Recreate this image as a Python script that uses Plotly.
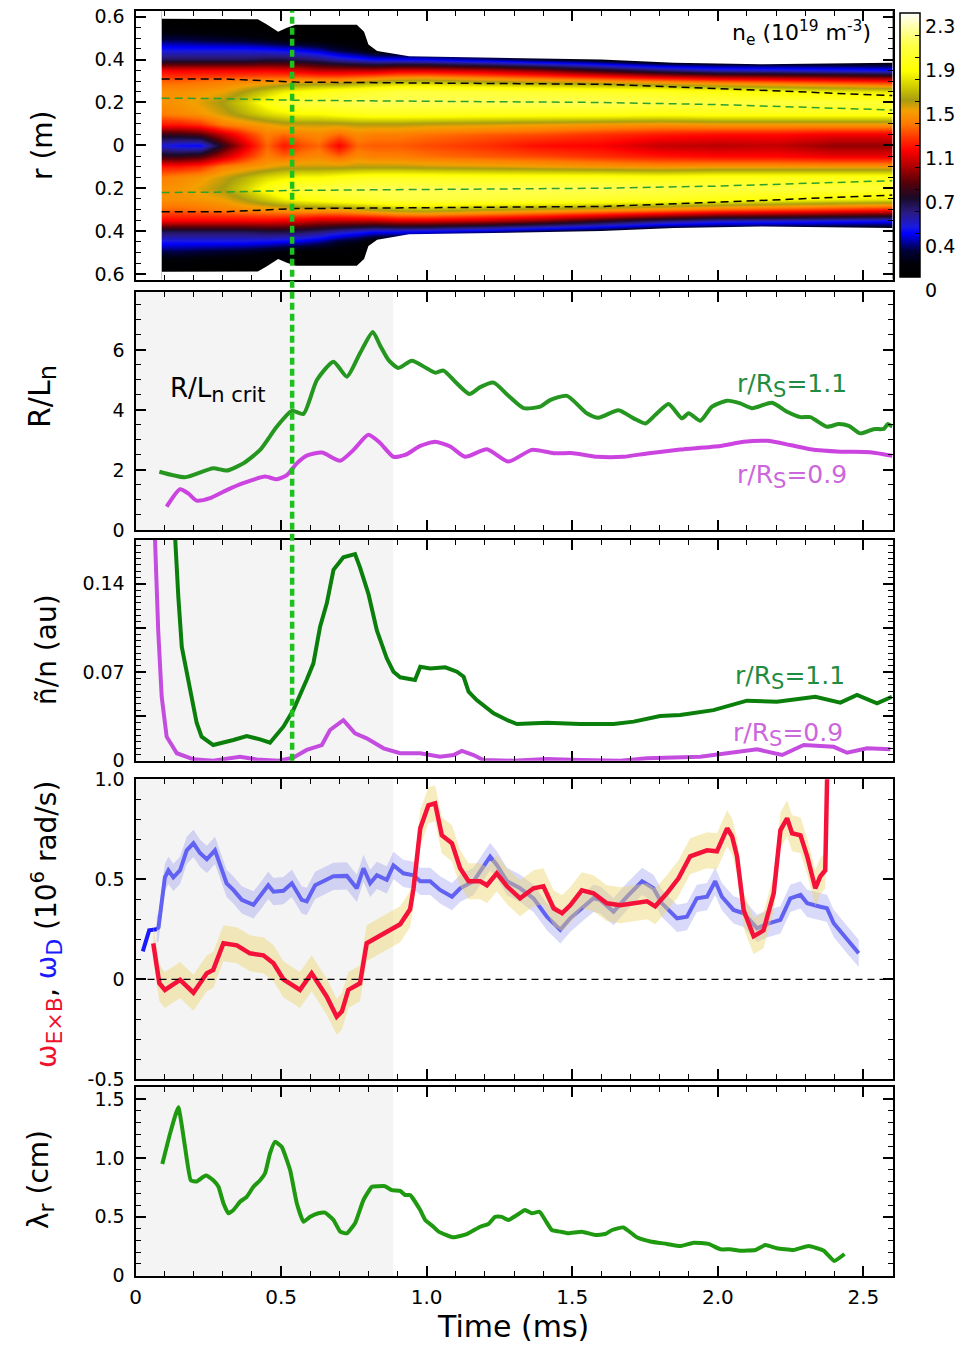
import plotly.graph_objects as go

W, H = 963, 1346
FONT = "DejaVu Sans"

# ---------------- data ----------------
# density map n_e(t, r): half profiles at radii R_HALF for each time in NE_T
NE_T = [0.09, 0.15, 0.22, 0.30, 0.38, 0.45, 0.51, 0.57, 0.63, 0.70, 0.76, 0.82,
        0.90, 1.0, 1.2, 1.4, 1.6, 1.8, 2.0, 2.2, 2.4, 2.6]
R_HALF = [0, 0.05, 0.1, 0.15, 0.2, 0.25, 0.3, 0.35, 0.4, 0.45, 0.5, 0.55, 0.6]
NE_PROFILES = [
    [0.45, 0.75, 1.15, 1.35, 1.40, 1.40, 1.30, 1.10, 0.62, 0.42, 0.22, 0.04, 0.0],
    [0.40, 0.75, 1.15, 1.38, 1.42, 1.40, 1.30, 1.10, 0.62, 0.42, 0.22, 0.04, 0.0],
    [0.38, 0.80, 1.20, 1.42, 1.47, 1.42, 1.32, 1.10, 0.62, 0.42, 0.20, 0.03, 0.0],
    [0.75, 1.00, 1.35, 1.50, 1.55, 1.45, 1.35, 1.10, 0.62, 0.42, 0.18, 0.03, 0.0],
    [1.05, 1.20, 1.40, 1.60, 1.68, 1.55, 1.38, 1.10, 0.62, 0.42, 0.16, 0.02, 0.0],
    [1.30, 1.35, 1.45, 1.70, 1.85, 1.65, 1.40, 1.10, 0.65, 0.40, 0.12, 0.02, 0.0],
    [1.15, 1.30, 1.50, 1.75, 1.95, 1.75, 1.42, 1.08, 0.65, 0.38, 0.08, 0.0, 0.0],
    [1.25, 1.35, 1.50, 1.80, 2.00, 1.80, 1.45, 1.05, 0.62, 0.35, 0.05, 0.0, 0.0],
    [1.30, 1.38, 1.50, 1.80, 2.00, 1.85, 1.45, 1.00, 0.58, 0.30, 0.04, 0.0, 0.0],
    [1.10, 1.30, 1.50, 1.85, 2.02, 1.90, 1.45, 1.00, 0.50, 0.20, 0.03, 0.0, 0.0],
    [1.30, 1.38, 1.52, 1.88, 2.05, 1.92, 1.50, 1.00, 0.45, 0.15, 0.02, 0.0, 0.0],
    [1.28, 1.35, 1.52, 1.90, 2.05, 1.95, 1.55, 1.00, 0.40, 0.05, 0.0, 0.0, 0.0],
    [1.28, 1.35, 1.52, 1.90, 2.05, 2.00, 1.60, 1.05, 0.40, 0.02, 0.0, 0.0, 0.0],
    [1.25, 1.32, 1.50, 1.90, 2.05, 2.00, 1.62, 1.05, 0.38, 0.0, 0.0, 0.0, 0.0],
    [1.20, 1.28, 1.48, 1.88, 2.05, 1.98, 1.55, 1.00, 0.30, 0.0, 0.0, 0.0, 0.0],
    [1.12, 1.25, 1.45, 1.88, 2.05, 1.95, 1.50, 0.90, 0.20, 0.0, 0.0, 0.0, 0.0],
    [1.10, 1.20, 1.42, 1.88, 2.05, 1.92, 1.45, 0.75, 0.12, 0.0, 0.0, 0.0, 0.0],
    [1.00, 1.15, 1.40, 1.85, 2.02, 1.90, 1.38, 0.60, 0.0, 0.0, 0.0, 0.0, 0.0],
    [0.98, 1.12, 1.42, 1.88, 2.00, 1.85, 1.30, 0.50, 0.0, 0.0, 0.0, 0.0, 0.0],
    [1.00, 1.12, 1.42, 1.88, 2.00, 1.80, 1.25, 0.48, 0.0, 0.0, 0.0, 0.0, 0.0],
    [0.92, 1.08, 1.42, 1.88, 1.98, 1.75, 1.20, 0.45, 0.0, 0.0, 0.0, 0.0, 0.0],
    [0.92, 1.08, 1.42, 1.88, 1.95, 1.72, 1.15, 0.42, 0.0, 0.0, 0.0, 0.0, 0.0],
]
NE_MAX = 2.3
# plasma edge radius vs time
EDGE_T = [0.09, 0.42, 0.45, 0.49, 0.52, 0.55, 0.76, 0.785, 0.80, 0.83, 0.94, 1.6, 1.85, 2.15, 2.6]
EDGE_R = [0.59, 0.588, 0.565, 0.53, 0.548, 0.562, 0.562, 0.53, 0.47, 0.44, 0.415, 0.40, 0.385, 0.378, 0.385]
# dashed contours
DASH_T = [0.09, 0.3, 0.55, 1.0, 1.6, 2.0, 2.3, 2.6]
BLACK_DASH_R = [0.31, 0.31, 0.295, 0.29, 0.285, 0.265, 0.25, 0.232]
GREEN_DASH_R = [0.22, 0.218, 0.21, 0.205, 0.2, 0.19, 0.178, 0.165]

T_CRIT = 0.538    # vertical dotted line
T_SHADE = 0.885   # end of grey shaded interval

# R/L_n
RLN11_T = [0.082, 0.17, 0.267, 0.313, 0.37, 0.428, 0.485, 0.537, 0.577, 0.623, 0.68, 0.726, 0.771,
           0.815, 0.84, 0.87, 0.903, 0.949, 1.0, 1.03, 1.058, 1.098, 1.147, 1.184, 1.23, 1.281,
           1.333, 1.39, 1.424, 1.482, 1.55, 1.59, 1.659, 1.711, 1.751, 1.785, 1.831, 1.877, 1.9,
           1.94, 1.98, 2.032, 2.077, 2.118, 2.186, 2.238, 2.284, 2.318, 2.375, 2.415, 2.45, 2.49,
           2.535, 2.57, 2.584, 2.6]
RLN11 = [1.94, 1.76, 2.06, 1.98, 2.22, 2.67, 3.44, 3.97, 3.87, 5.0, 5.61, 5.11, 5.89,
         6.6, 6.15, 5.65, 5.4, 5.64, 5.39, 5.24, 5.31, 4.94, 4.53, 4.76, 4.91, 4.47,
         4.06, 4.11, 4.33, 4.47, 3.89, 3.74, 3.99, 3.72, 3.55, 3.83, 4.2, 3.72, 3.89,
         3.64, 4.11, 4.31, 4.22, 4.06, 4.24, 3.94, 3.76, 3.76, 3.44, 3.53, 3.47, 3.22,
         3.36, 3.37, 3.53, 3.44]
RLN09_T = [0.107, 0.153, 0.181, 0.21, 0.256, 0.313, 0.37, 0.445, 0.485, 0.52, 0.554, 0.588, 0.64,
           0.703, 0.749, 0.8, 0.84, 0.886, 0.926, 0.978, 1.029, 1.081, 1.132, 1.207, 1.281, 1.361,
           1.436, 1.504, 1.585, 1.676, 1.757, 1.871, 2.009, 2.089, 2.169, 2.249, 2.318, 2.421,
           2.524, 2.6]
RLN09 = [0.78, 1.36, 1.22, 0.98, 1.06, 1.33, 1.56, 1.78, 1.69, 1.83, 2.22, 2.48, 2.58,
         2.31, 2.67, 3.17, 2.9, 2.44, 2.5, 2.8, 2.94, 2.78, 2.44, 2.69, 2.28, 2.67,
         2.56, 2.56, 2.44, 2.44, 2.55, 2.68, 2.8, 2.94, 2.97, 2.83, 2.69, 2.61,
         2.59, 2.47]

# fluctuation level n~/n
FL11_T = [0.133, 0.136, 0.147, 0.159, 0.181, 0.21, 0.227, 0.267, 0.336, 0.382, 0.428, 0.462, 0.508,
          0.542, 0.588, 0.611, 0.634, 0.657, 0.68, 0.714, 0.754, 0.771, 0.80, 0.829, 0.863, 0.886,
          0.909, 0.96, 0.978, 1.012, 1.064, 1.104, 1.127, 1.144, 1.172, 1.23, 1.276, 1.31, 1.413,
          1.527, 1.642, 1.711, 1.802, 1.871, 1.985, 2.1, 2.203, 2.335, 2.421, 2.478, 2.547, 2.598]
FL11 = [0.19, 0.175, 0.130, 0.090, 0.064, 0.030, 0.019, 0.0124, 0.0164, 0.0195, 0.0169, 0.0142, 0.0269,
        0.040, 0.064, 0.077, 0.106, 0.1245, 0.151, 0.161, 0.1635, 0.153, 0.132, 0.103, 0.081, 0.0704,
        0.066, 0.0638, 0.0744, 0.073, 0.0739, 0.0704, 0.0664, 0.0546, 0.048, 0.0375, 0.0322, 0.029, 0.030,
        0.029, 0.029, 0.0309, 0.0354, 0.0361, 0.040, 0.0475, 0.0467, 0.0506, 0.0459, 0.052, 0.0454, 0.0506]
FL09_T = [0.062, 0.067, 0.078, 0.09, 0.107, 0.142, 0.199, 0.267, 0.359, 0.416, 0.491, 0.542, 0.588,
          0.64, 0.668, 0.714, 0.754, 0.794, 0.852, 0.909, 0.978, 1.046, 1.092, 1.121, 1.161, 1.195,
          1.298, 1.413, 1.527, 1.665, 1.757, 1.871, 1.94, 2.135, 2.221, 2.295, 2.398, 2.444, 2.513, 2.593]
FL09 = [0.19, 0.175, 0.103, 0.0506, 0.019, 0.0059, 0.0011, 0.0, 0.0032, 0.001, 0.0, 0.0024, 0.0085,
        0.0124, 0.0243, 0.032, 0.0217, 0.0177, 0.0098, 0.0059, 0.0059, 0.0032, 0.0045, 0.0077, 0.0045, 0.0005,
        0.0, 0.0013, 0.0005, 0.0, 0.002, 0.0027, 0.0032, 0.009, 0.0045, 0.0124, 0.011, 0.0063, 0.0098, 0.009]

# shearing rate and drift frequency (10^6 rad/s)
EXB_T = [0.061, 0.082, 0.101, 0.153, 0.199, 0.245, 0.267, 0.302, 0.348, 0.393, 0.439, 0.474, 0.508,
         0.565, 0.605, 0.657, 0.691, 0.709, 0.731, 0.771, 0.794, 0.852, 0.909, 0.943, 0.955, 0.978,
         1.006, 1.029, 1.052, 1.087, 1.115, 1.144, 1.184, 1.207, 1.241, 1.276, 1.321, 1.367, 1.401,
         1.436, 1.465, 1.493, 1.533, 1.573, 1.619, 1.665, 1.711, 1.757, 1.785, 1.825, 1.865, 1.905,
         1.963, 1.997, 2.032, 2.049, 2.066, 2.089, 2.123, 2.157, 2.192, 2.215, 2.238, 2.255, 2.284,
         2.307, 2.335, 2.352, 2.369, 2.376]
EXB = [0.18, -0.02, -0.053, -0.003, -0.067, 0.03, 0.047, 0.18, 0.17, 0.13, 0.12, 0.08, 0.0,
       -0.053, 0.03, -0.087, -0.187, -0.16, -0.053, -0.02, 0.18, 0.23, 0.275, 0.35, 0.455, 0.755,
       0.87, 0.88, 0.72, 0.68, 0.555, 0.49, 0.49, 0.47, 0.53, 0.465, 0.405, 0.455, 0.465,
       0.355, 0.33, 0.37, 0.445, 0.43, 0.38, 0.37, 0.38, 0.39, 0.365, 0.43, 0.505, 0.615,
       0.645, 0.64, 0.755, 0.715, 0.615, 0.345, 0.215, 0.245, 0.43, 0.745, 0.805, 0.73, 0.72,
       0.615, 0.455, 0.515, 0.545, 1.05]
EXB_ERR = 0.09
WD0_T = [0.025, 0.047, 0.073]
WD0 = [0.14, 0.245, 0.25]
WD_T = [0.073, 0.079, 0.101, 0.113, 0.13, 0.153, 0.176, 0.199, 0.222, 0.245, 0.273, 0.313, 0.336,
        0.365, 0.405, 0.428, 0.456, 0.474, 0.508, 0.537, 0.571, 0.588, 0.617, 0.645, 0.68, 0.726,
        0.76, 0.783, 0.806, 0.829, 0.863, 0.886, 0.92, 0.955, 0.978, 1.012, 1.046, 1.087, 1.115,
        1.161, 1.218, 1.241, 1.276, 1.321, 1.367, 1.413, 1.459, 1.493, 1.539, 1.573, 1.596, 1.642,
        1.688, 1.74, 1.779, 1.808, 1.86, 1.894, 1.928, 1.963, 1.991, 2.014, 2.054, 2.089, 2.135,
        2.169, 2.215, 2.249, 2.284, 2.307, 2.352, 2.375, 2.398, 2.444, 2.484]
WD = [0.25, 0.26, 0.51, 0.545, 0.51, 0.545, 0.645, 0.68, 0.63, 0.60, 0.645, 0.48, 0.447,
      0.397, 0.372, 0.413, 0.47, 0.438, 0.443, 0.48, 0.397, 0.39, 0.47, 0.49, 0.515, 0.517,
      0.455, 0.555, 0.48, 0.52, 0.497, 0.57, 0.53, 0.52, 0.49, 0.49, 0.447, 0.413, 0.455,
      0.49, 0.613, 0.572, 0.49, 0.455, 0.405, 0.313, 0.247, 0.305, 0.363, 0.405, 0.397, 0.338,
      0.413, 0.49, 0.455, 0.38, 0.305, 0.313, 0.405, 0.413, 0.49, 0.413, 0.347, 0.33, 0.255,
      0.277, 0.297, 0.405, 0.422, 0.38, 0.363, 0.355, 0.28, 0.197, 0.13]
WD_ERR = 0.068

# radial correlation length (cm)
LR_T = [0.092, 0.119, 0.147, 0.17, 0.19, 0.21, 0.233, 0.244, 0.267, 0.285, 0.302, 0.319, 0.336,
        0.359, 0.382, 0.405, 0.428, 0.445, 0.462, 0.479, 0.502, 0.531, 0.554, 0.577, 0.6, 0.628,
        0.651, 0.68, 0.703, 0.726, 0.754, 0.783, 0.812, 0.834, 0.857, 0.88, 0.909, 0.926, 0.943,
        0.978, 0.995, 1.023, 1.041, 1.092, 1.138, 1.184, 1.212, 1.235, 1.258, 1.281, 1.31, 1.338,
        1.361, 1.388, 1.407, 1.43, 1.459, 1.487, 1.533, 1.579, 1.613, 1.637, 1.676, 1.722, 1.768,
        1.825, 1.871, 1.917, 1.968, 2.009, 2.043, 2.077, 2.129, 2.163, 2.203, 2.26, 2.312, 2.364,
        2.4, 2.435]
LR = [0.948, 1.21, 1.43, 1.095, 0.81, 0.80, 0.84, 0.85, 0.81, 0.755, 0.615, 0.53, 0.557,
      0.628, 0.67, 0.755, 0.81, 0.87, 1.04, 1.137, 1.095, 0.897, 0.615, 0.458, 0.50, 0.53,
      0.535, 0.473, 0.374, 0.36, 0.445, 0.643, 0.755, 0.76, 0.76, 0.727, 0.72, 0.685, 0.685,
      0.557, 0.473, 0.416, 0.374, 0.326, 0.354, 0.416, 0.439, 0.50, 0.50, 0.473, 0.515, 0.557,
      0.53, 0.543, 0.473, 0.388, 0.374, 0.36, 0.374, 0.346, 0.354, 0.388, 0.41, 0.326, 0.29,
      0.27, 0.252, 0.28, 0.27, 0.224, 0.224, 0.212, 0.218, 0.26, 0.233, 0.218, 0.252, 0.212,
      0.125, 0.184]

X_TICKS = [0, 0.5, 1.0, 1.5, 2.0, 2.5]
X_TICKTEXT = ["0", "0.5", "1.0", "1.5", "2.0", "2.5"]

# ---------------- layout geometry ----------------
def py(px):
    return 1 - px / H

XDOM = [135.5 / W, 892.5 / W]
DOMS = {
    1: [py(280), py(10.7)],
    2: [py(530), py(292)],
    3: [py(760.7), py(539.5)],
    4: [py(1079.3), py(779.3)],
    5: [py(1275.7), py(1087.3)],
}
R_LIM = 0.628
R_OUT = 0.8

CS = [
    [0.0, '#000000'], [0.05, '#000008'], [0.10, '#00003c'], [0.14, '#0000b8'],
    [0.165, '#0000ff'], [0.19, '#1a1ae0'], [0.245, '#2a1a80'], [0.30, '#1a0a28'],
    [0.36, '#5a0008'], [0.42, '#b00000'], [0.48, '#ff0000'], [0.53, '#ff3800'],
    [0.58, '#ff7a00'], [0.63, '#f4a000'], [0.67, '#a89c10'], [0.72, '#d0cc00'],
    [0.78, '#ffff00'], [0.88, '#ffff48'], [0.95, '#ffffb0'], [1.0, '#ffffff'],
]

fig = go.Figure()

# ---- panel 1: heatmap ----
n_r = len(R_HALF)
r_full = [-R_HALF[i] for i in range(n_r - 1, 0, -1)] + list(R_HALF)
row_idx = list(range(n_r - 1, 0, -1)) + list(range(n_r))
z = [[prof[i] for prof in NE_PROFILES] for i in row_idx]

cb_ticks = [NE_MAX * k / 12 for k in range(13)]
cb_text = ["0", "", "0.4", "", "0.7", "", "1.1", "", "1.5", "", "1.9", "", "2.3"]
fig.add_trace(go.Heatmap(
    x=NE_T, y=r_full, z=z, zsmooth='best', colorscale=CS, zmin=0, zmax=NE_MAX,
    xaxis='x', yaxis='y', hoverinfo='skip',
    colorbar=dict(
        x=900 / W, xanchor='left', y=py(277), yanchor='bottom',
        len=264 / H, lenmode='fraction', thickness=20, thicknessmode='pixels',
        outlinewidth=1.5, outlinecolor='black', ticks='inside', ticklen=5,
        tickcolor='black', tickwidth=1, tickvals=cb_ticks, ticktext=cb_text,
        ticklabelposition='outside bottom',
        tickfont=dict(family=FONT, size=19, color='black'), xpad=0, ypad=0,
    ),
))
# white outside the plasma edge
for sgn in (1, -1):
    fig.add_trace(go.Scatter(
        x=EDGE_T + EDGE_T[::-1], y=[sgn * r for r in EDGE_R] + [sgn * R_OUT] * len(EDGE_T),
        fill='toself', fillcolor='white', mode='lines', line=dict(width=0),
        xaxis='x', yaxis='y', hoverinfo='skip', showlegend=False))
fig.add_trace(go.Scatter(
    x=[0, NE_T[0], NE_T[0], 0], y=[-R_OUT, -R_OUT, R_OUT, R_OUT],
    fill='toself', fillcolor='white', mode='lines', line=dict(width=0),
    xaxis='x', yaxis='y', hoverinfo='skip', showlegend=False))
for sgn in (1, -1):
    fig.add_trace(go.Scatter(x=DASH_T, y=[sgn * r for r in BLACK_DASH_R], mode='lines',
                             line=dict(color='black', width=1.5, dash='8px,5px'),
                             xaxis='x', yaxis='y', showlegend=False, hoverinfo='skip'))
    fig.add_trace(go.Scatter(x=DASH_T, y=[sgn * r for r in GREEN_DASH_R], mode='lines',
                             line=dict(color='#2ca02c', width=1.5, dash='8px,5px'),
                             xaxis='x', yaxis='y', showlegend=False, hoverinfo='skip'))

# ---- panel 2: R/Ln ----
fig.add_trace(go.Scatter(x=RLN11_T, y=RLN11, mode='lines', line=dict(color='#25961f', width=4, shape='spline', smoothing=0.6),
                         xaxis='x2', yaxis='y2', showlegend=False))
fig.add_trace(go.Scatter(x=RLN09_T, y=RLN09, mode='lines', line=dict(color='#cc44e0', width=4, shape='spline', smoothing=0.6),
                         xaxis='x2', yaxis='y2', showlegend=False))

# ---- panel 3: fluctuation level ----
fig.add_trace(go.Scatter(x=FL11_T, y=FL11, mode='lines', line=dict(color='#0b7f0b', width=4),
                         xaxis='x3', yaxis='y3', showlegend=False))
fig.add_trace(go.Scatter(x=FL09_T, y=FL09, mode='lines', line=dict(color='#c44de0', width=4),
                         xaxis='x3', yaxis='y3', showlegend=False))

# ---- panel 4: omega ----
fig.add_trace(go.Scatter(
    x=WD_T + WD_T[::-1], y=[v + WD_ERR for v in WD] + [v - WD_ERR for v in WD][::-1],
    fill='toself', fillcolor='rgba(120,120,235,0.28)', mode='lines', line=dict(width=0),
    xaxis='x4', yaxis='y4', showlegend=False, hoverinfo='skip'))
fig.add_trace(go.Scatter(x=WD_T, y=WD, mode='lines', line=dict(color='#6262f2', width=4),
                         xaxis='x4', yaxis='y4', showlegend=False))
fig.add_trace(go.Scatter(x=WD0_T, y=WD0, mode='lines', line=dict(color='#1a1aff', width=4),
                         xaxis='x4', yaxis='y4', showlegend=False))
fig.add_trace(go.Scatter(
    x=EXB_T + EXB_T[::-1], y=[v + EXB_ERR for v in EXB] + [v - EXB_ERR for v in EXB][::-1],
    fill='toself', fillcolor='rgba(235,212,110,0.45)', mode='lines', line=dict(width=0),
    xaxis='x4', yaxis='y4', showlegend=False, hoverinfo='skip'))
fig.add_trace(go.Scatter(x=EXB_T, y=EXB, mode='lines', line=dict(color='#f5123a', width=4.5),
                         xaxis='x4', yaxis='y4', showlegend=False))

# ---- panel 5: lambda_r ----
fig.add_trace(go.Scatter(x=LR_T, y=LR, mode='lines', line=dict(color='#1f9a10', width=4, shape='spline', smoothing=0.4),
                         xaxis='x5', yaxis='y5', showlegend=False))

# ---------------- axes ----------------
def base_axis(**kw):
    d = dict(showline=True, linecolor='black', linewidth=2, mirror='allticks',
             ticks='inside', ticklen=10, tickwidth=1.5, tickcolor='black',
             showgrid=False, zeroline=False,
             tickfont=dict(family=FONT, size=19, color='black'))
    d.update(kw)
    return d

ylims = {1: [-R_LIM, R_LIM], 2: [0, 7.93], 3: [0, 0.175], 4: [-0.5, 1.0], 5: [0, 1.6]}
yticks = {
    1: ([-0.6, -0.4, -0.2, 0, 0.2, 0.4, 0.6], ['0.6', '0.4', '0.2', '0', '0.2', '0.4', '0.6'], 0.05),
    2: ([0, 2, 4, 6], ['0', '2', '4', '6'], 0.5),
    3: ([0, 0.035, 0.07, 0.105, 0.14], ['0', '', '0.07', '', '0.14'], 0.005),
    4: ([-0.5, 0, 0.5, 1.0], ['-0.5', '0', '0.5', '1.0'], 0.1),
    5: ([0, 0.5, 1.0, 1.5], ['0', '0.5', '1.0', '1.5'], 0.1),
}
layout_axes = {}
for k in range(1, 6):
    sx = '' if k == 1 else str(k)
    layout_axes['xaxis' + sx] = base_axis(
        domain=XDOM, range=[0, 2.6], anchor='y' + sx,
        tickmode='array', tickvals=X_TICKS, ticktext=X_TICKTEXT,
        showticklabels=(k == 5), ticklabelstandoff=2,
        tickfont=dict(family=FONT, size=20, color='black'),
        minor=dict(ticks='inside', ticklen=5, tickwidth=1.2, tickcolor='black',
                   tickmode='linear', tick0=0, dtick=0.1, showgrid=False),
    )
    tv, tt, md = yticks[k]
    layout_axes['yaxis' + sx] = base_axis(
        domain=DOMS[k], range=ylims[k], anchor='x' + sx,
        tickmode='array', tickvals=tv, ticktext=tt, ticklabelstandoff=5,
        minor=dict(ticks='inside', ticklen=5, tickwidth=1.2, tickcolor='black',
                   tickmode='linear', tick0=ylims[k][0] if k != 1 else 0, dtick=md, showgrid=False),
    )

shapes = []
for k in range(2, 6):
    shapes.append(dict(type='rect', xref='x%d' % k, yref='y%d domain' % k,
                       x0=0, x1=T_SHADE, y0=0, y1=1, fillcolor='#f4f4f4',
                       line=dict(width=0), layer='below'))
shapes.append(dict(type='line', xref='x4 domain', yref='y4', x0=0, x1=1, y0=0, y1=0,
                   line=dict(color='black', width=1.3, dash='7px,5px'), layer='above'))
shapes.append(dict(type='line', xref='x2', yref='paper', x0=T_CRIT, x1=T_CRIT,
                   y0=DOMS[3][0], y1=DOMS[1][1],
                   line=dict(color='#1ec01e', width=4.5, dash='7px,4px'), layer='above'))

def ann(text, xpx, ypx, size, color='black', angle=0, xanchor='center'):
    return dict(text=text, x=xpx / W, y=py(ypx), xref='paper', yref='paper',
                xanchor=xanchor, yanchor='middle', showarrow=False, textangle=angle,
                font=dict(family=FONT, size=size, color=color))

def big_sub(s, px):
    return "<sub><span style='font-size:%dpx'>%s</span></sub>" % (px, s)

annotations = [
    ann('n<sub>e</sub> (10<sup>19</sup> m<sup>-3</sup>)', 801, 33, 22),
    ann('R/L' + big_sub('n crit', 21), 168, 390, 26, xanchor='left'),
    ann('r/R' + big_sub('S', 21) + '=1.1', 735, 385, 25, color='#1f8c3f', xanchor='left'),
    ann('r/R' + big_sub('S', 21) + '=0.9', 735, 476, 25, color='#cc66dd', xanchor='left'),
    ann('r/R' + big_sub('S', 21) + '=1.1', 733, 677, 25, color='#1f8c3f', xanchor='left'),
    ann('r/R' + big_sub('S', 21) + '=0.9', 731, 735, 25, color='#cc66dd', xanchor='left'),
    ann('r (m)', 42, 145, 28, angle=-90),
    ann('R/L' + big_sub('n', 24), 42, 397, 30, angle=-90),
    ann('ñ/n (au)', 46, 650, 28, angle=-90),
    ann("<span style='color:#f0102a'>ω" + big_sub('E×B', 22) + "</span>, "
        "<span style='color:#1a1aff'>ω" + big_sub('D', 22) + "</span> (10<sup>6</sup> rad/s)",
        46, 925, 28, angle=-90),
    ann('λ' + big_sub('r', 22) + ' (cm)', 40, 1180, 28, angle=-90),
    ann('Time (ms)', 513, 1326, 30),
]

fig.update_layout(
    width=W, height=H, template='none',
    margin=dict(l=0, r=0, t=0, b=0, autoexpand=False),
    paper_bgcolor='white', plot_bgcolor='white',
    showlegend=False, shapes=shapes, annotations=annotations,
    font=dict(family=FONT, color='black'),
    **layout_axes,
)

fig.write_html("out.html")
